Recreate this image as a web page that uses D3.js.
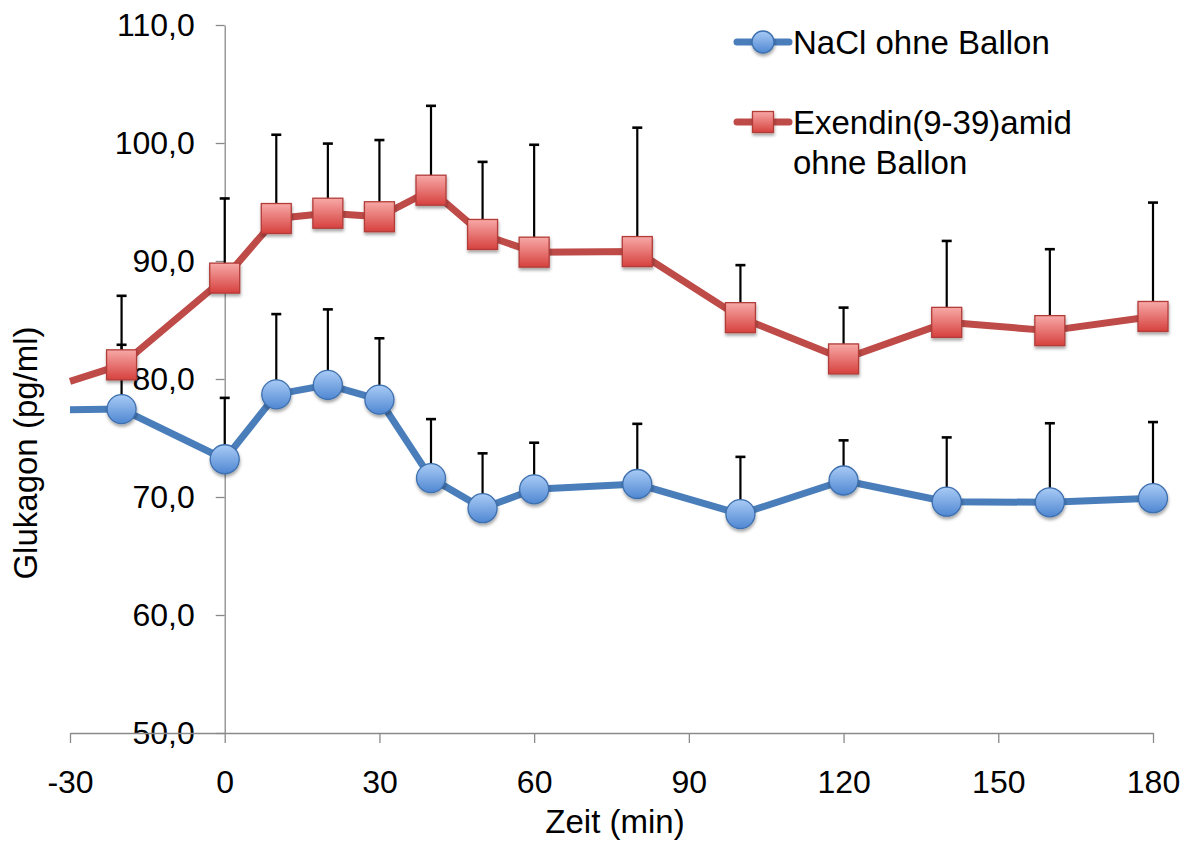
<!DOCTYPE html>
<html>
<head>
<meta charset="utf-8">
<script src="https://cdn.jsdelivr.net/npm/d3@7"></script>
<style>
  html, body { margin: 0; padding: 0; background: #fff; }
  svg { display: block; font-family: "Liberation Sans", Arial, sans-serif; }
</style>
</head>
<body>
<svg id="chart" width="1188" height="841"></svg>
<script>
// Sampling times (min) and glucagon values (pg/ml)
const times = [-30, -20, 0, 10, 20, 30, 40, 50, 60, 80, 100, 120, 140, 160, 180];
const naclMean = [77.4, 77.45, 73.2, 78.7, 79.5, 78.25, 71.6, 69.05, 70.65, 71.1, 68.55, 71.4, 69.6, 69.55, 69.9];
const naclErr  = [null, 5.45, 5.2, 6.8, 6.4, 5.2, 5.0, 4.65, 3.95, 5.1, 4.85, 3.4, 5.45, 6.7, 6.45];
const exMean   = [79.8, 81.2, 88.55, 93.6, 94.05, 93.75, 96.0, 92.25, 90.75, 90.8, 85.2, 81.7, 84.8, 84.1, 85.3];
const exErr    = [null, 5.85, 6.75, 7.1, 5.9, 6.5, 7.15, 6.15, 9.1, 10.5, 4.45, 4.35, 6.9, 6.9, 9.65];
// the -30 value only carries the line in from the edge, no marker there
const markerFrom = 1;

const xTicks = [-30, 0, 30, 60, 90, 120, 150, 180];
const yTicks = [50, 60, 70, 80, 90, 100, 110];
const seriesNames = ["NaCl ohne Ballon", ["Exendin(9-39)amid", "ohne Ballon"]];

const svg = d3.select("#chart");
const axisColor = "#8a8a8a";
const blue = "#4a7ebb", red = "#be4b48";

const x = d3.scaleLinear().domain([-30, 180]).range([70, 1153]);
const y = d3.scaleLinear().domain([50, 110]).range([733, 25]);

const de = d3.formatLocale({decimal: ",", thousands: ".", grouping: [3], currency: ["", " €"], minus: "-"});
const fmt1 = de.format(".1f");
const fmtInt = de.format("d");

// gradients and marker shadow
const defs = svg.append("defs");
const gBlue = defs.append("linearGradient").attr("id", "gBlue").attr("x1", 0).attr("y1", 0).attr("x2", 0).attr("y2", 1);
gBlue.append("stop").attr("offset", "0%").attr("stop-color", "#a9cbf5");
gBlue.append("stop").attr("offset", "100%").attr("stop-color", "#4f87d2");
const gRed = defs.append("linearGradient").attr("id", "gRed").attr("x1", 0).attr("y1", 0).attr("x2", 0).attr("y2", 1);
gRed.append("stop").attr("offset", "0%").attr("stop-color", "#f7a9a7");
gRed.append("stop").attr("offset", "100%").attr("stop-color", "#d6413e");
const sh = defs.append("filter").attr("id", "shadow").attr("x", "-50%").attr("y", "-50%").attr("width", "200%").attr("height", "200%");
sh.append("feDropShadow").attr("dx", 0.5).attr("dy", 2.5).attr("stdDeviation", 1.8)
  .attr("flood-color", "#000").attr("flood-opacity", 0.35);

// axes
const yAxis = d3.axisLeft(y).tickValues(yTicks).tickFormat(fmt1).tickSize(9).tickSizeOuter(0).tickPadding(21);
const gy = svg.append("g").attr("transform", `translate(${x(0)},0)`).call(yAxis);
gy.selectAll("path, line").attr("stroke", axisColor).attr("stroke-width", 1.3);
gy.selectAll("text").attr("font-size", 32).attr("fill", "#000")
  .attr("font-family", "Liberation Sans, Arial, sans-serif");

const xAxis = d3.axisBottom(x).tickValues(xTicks).tickFormat(fmtInt).tickSize(10).tickSizeOuter(0).tickPadding(27);
const gx = svg.append("g").attr("transform", `translate(0,${y(50)})`).call(xAxis);
gx.selectAll("path, line").attr("stroke", axisColor).attr("stroke-width", 1.3);
gx.selectAll("text").attr("font-size", 32).attr("fill", "#000")
  .attr("font-family", "Liberation Sans, Arial, sans-serif");

// axis titles
svg.append("text").attr("x", 615).attr("y", 833).attr("text-anchor", "middle")
  .attr("font-size", 33).text("Zeit (min)");
svg.append("text").attr("transform", "translate(37,453) rotate(-90)").attr("text-anchor", "middle")
  .attr("font-size", 33).text("Glukagon (pg/ml)");

const series = [
  {mean: naclMean, err: naclErr, color: blue, fill: "url(#gBlue)", stroke: "#3d6fae", shape: "circle"},
  {mean: exMean, err: exErr, color: red, fill: "url(#gRed)", stroke: "#b23c39", shape: "square"}
];

// upper error bars
series.forEach(s => {
  const pts = times.map((t, i) => ({t, v: s.mean[i], e: s.err[i]})).filter(d => d.e != null);
  const g = svg.append("g");
  g.selectAll("line.stem").data(pts).join("line")
    .attr("x1", d => x(d.t)).attr("x2", d => x(d.t))
    .attr("y1", d => y(d.v)).attr("y2", d => y(d.v + d.e))
    .attr("stroke", "#000").attr("stroke-width", 2.2);
  g.selectAll("line.cap").data(pts).join("line")
    .attr("x1", d => x(d.t) - 5).attr("x2", d => x(d.t) + 5)
    .attr("y1", d => y(d.v + d.e)).attr("y2", d => y(d.v + d.e))
    .attr("stroke", "#000").attr("stroke-width", 2.6);
});

// lines
const line = d3.line().x(d => x(d.t)).y(d => y(d.v));
series.forEach(s => {
  svg.append("path")
    .datum(times.map((t, i) => ({t, v: s.mean[i]})))
    .attr("d", line).attr("fill", "none")
    .attr("stroke", s.color).attr("stroke-width", 7).attr("stroke-linejoin", "round");
});

// markers
function drawMarker(g, shape, cx, cy, size, s) {
  if (shape === "circle") {
    g.append("circle").attr("cx", cx).attr("cy", cy).attr("r", size / 2)
      .attr("fill", s.fill).attr("stroke", s.stroke).attr("stroke-width", 1.3)
      .attr("filter", "url(#shadow)");
  } else {
    g.append("rect").attr("x", cx - size / 2).attr("y", cy - size / 2)
      .attr("width", size).attr("height", size)
      .attr("fill", s.fill).attr("stroke", s.stroke).attr("stroke-width", 1.3)
      .attr("filter", "url(#shadow)");
  }
}
series.forEach(s => {
  const g = svg.append("g");
  times.forEach((t, i) => {
    if (i < markerFrom) return;
    drawMarker(g, s.shape, x(t), y(s.mean[i]), s.shape === "circle" ? 29 : 30, s);
  });
});

// legend
const legend = svg.append("g");
const legendRows = [{cy: 42, texts: [seriesNames[0]]}, {cy: 122, texts: seriesNames[1]}];
legendRows.forEach((r, k) => {
  const s = series[k];
  legend.append("line").attr("x1", 737).attr("x2", 789).attr("y1", r.cy).attr("y2", r.cy)
    .attr("stroke", s.color).attr("stroke-width", 7).attr("stroke-linecap", "round");
  drawMarker(legend, s.shape, 763, r.cy, s.shape === "circle" ? 22 : 21, s);
  r.texts.forEach((t, j) => {
    legend.append("text").attr("x", 793).attr("y", r.cy + 11.5 + j * 40)
      .attr("font-size", 33).text(t);
  });
});
</script>
</body>
</html>
